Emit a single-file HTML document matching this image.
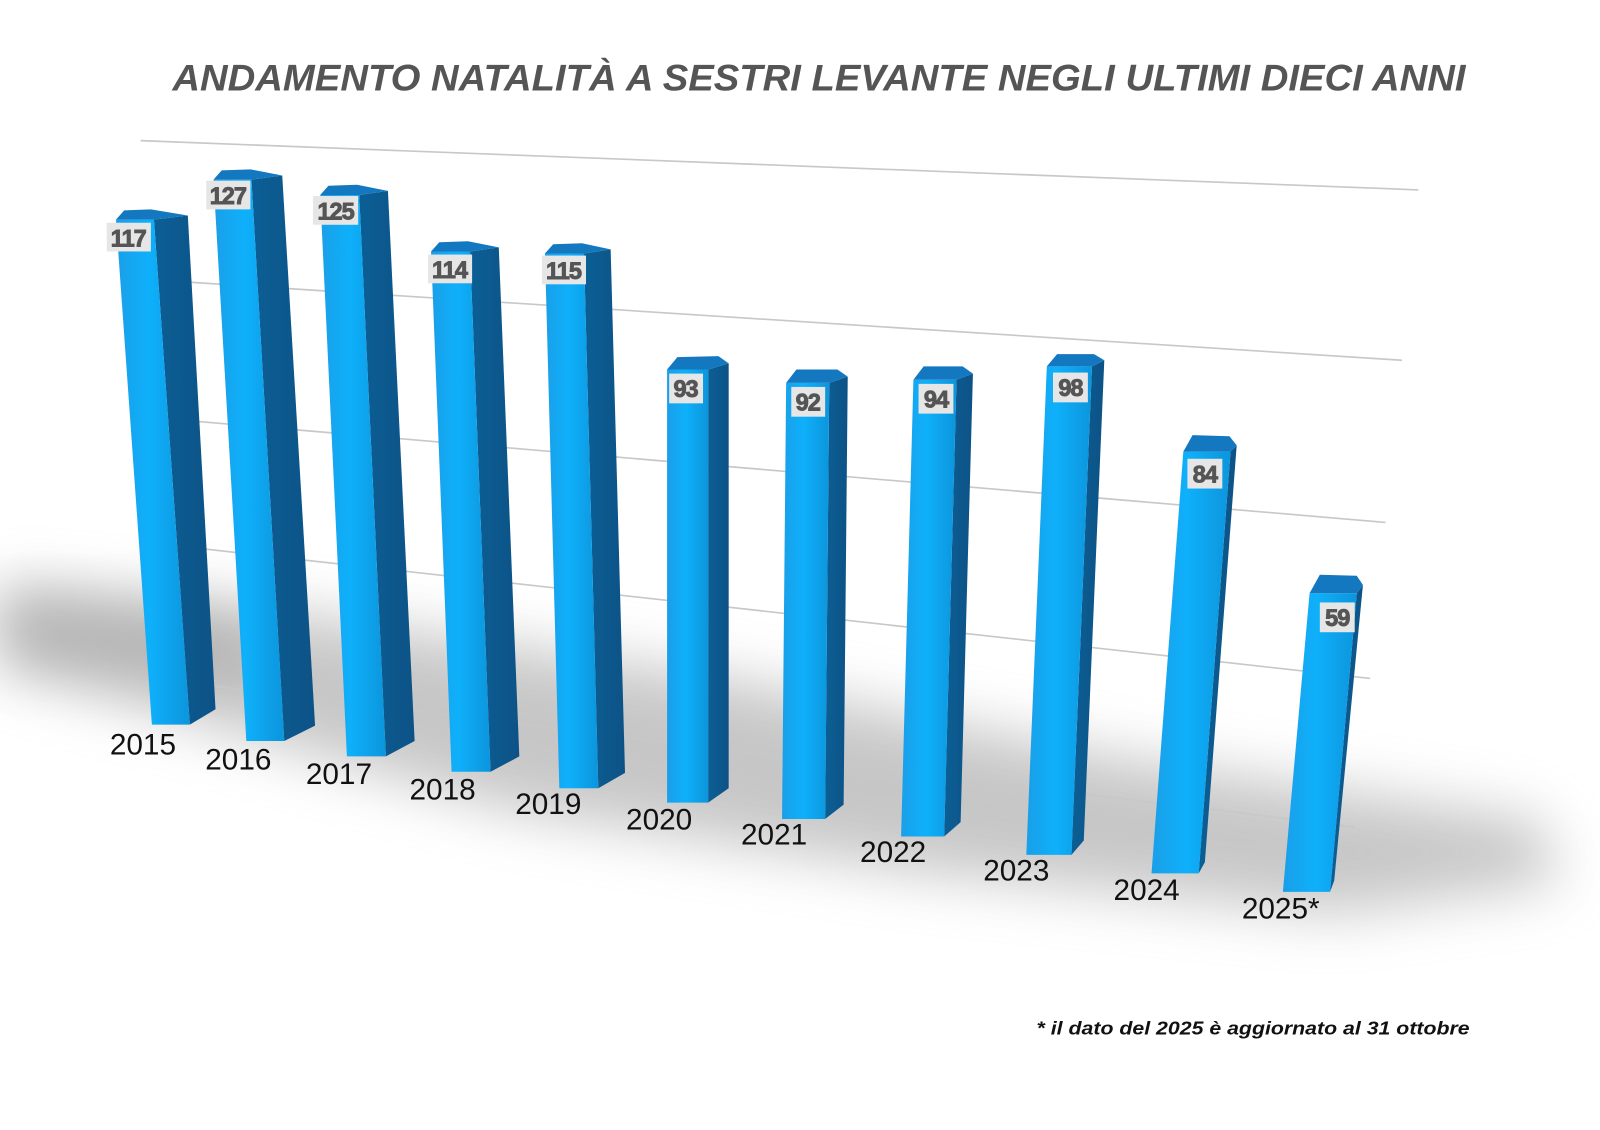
<!DOCTYPE html>
<html><head><meta charset="utf-8"><style>
html,body{margin:0;padding:0;background:#fff;width:1600px;height:1130px;overflow:hidden}
svg{display:block}
.v{font-family:"Liberation Sans",sans-serif;font-weight:bold;font-size:23px;fill:#555;stroke:#555;stroke-width:0.9px;letter-spacing:-1px}
</style></head><body>
<svg width="1600" height="1130" viewBox="0 0 1559 1101" xmlns="http://www.w3.org/2000/svg">
<defs>
<filter id="blur" x="-20%" y="-50%" width="140%" height="200%"><feGaussianBlur stdDeviation="28"/></filter>
<linearGradient id="front" x1="0" y1="0" x2="1" y2="0">
<stop offset="0" stop-color="#1a9fe8"/><stop offset="0.45" stop-color="#0fb0fb"/><stop offset="1" stop-color="#0c95dc"/>
</linearGradient>
<linearGradient id="side" x1="0" y1="0" x2="1" y2="0">
<stop offset="0" stop-color="#0b5f95"/><stop offset="1" stop-color="#0d5286"/>
</linearGradient>
</defs>
<rect width="1559" height="1101" fill="#fff"/>
<text x="798" y="88" text-anchor="middle" font-family="Liberation Sans, sans-serif" font-weight="bold" font-style="italic" font-size="36" fill="#555" textLength="1260" lengthAdjust="spacingAndGlyphs">ANDAMENTO NATALITÀ A SESTRI LEVANTE NEGLI ULTIMI DIECI ANNI</text>
<polygon points="0,570 300,600 700,660 1100,740 1500,800 1520,860 1300,890 900,850 500,790 0,650" fill="#999" opacity="0.55" filter="url(#blur)"/>
<polygon points="0,580 250,600 250,660 0,640" fill="#888" opacity="0.35" filter="url(#blur)"/>
<g stroke="#c8c8c8" stroke-width="1.6">
<line x1="137" y1="137" x2="1382" y2="185"/>
<line x1="185" y1="275" x2="1366" y2="351"/>
<line x1="185" y1="410" x2="1350" y2="509"/>
<line x1="200" y1="535" x2="1335" y2="661"/>
<line x1="205" y1="668" x2="1320" y2="806"/>
</g>
<text x="1432" y="1008" text-anchor="end" font-family="Liberation Sans, sans-serif" font-weight="bold" font-style="italic" font-size="18" fill="#111" textLength="422" lengthAdjust="spacingAndGlyphs">* il dato del 2025 è aggiornato al 31  ottobre</text>
<g font-family="Liberation Sans, sans-serif" font-size="29" fill="#111">
<text x="107" y="735">2015</text><text x="200" y="750">2016</text><text x="298" y="764">2017</text>
<text x="399" y="779">2018</text><text x="502" y="793">2019</text><text x="610" y="808">2020</text>
<text x="722" y="823">2021</text><text x="838" y="840">2022</text><text x="958" y="858">2023</text>
<text x="1085" y="877">2024</text><text x="1210" y="895">2025*</text>
</g>
<g>
<polygon points="150,214 183,210 210,691 185,706" fill="url(#side)"/><polygon points="113,214 150,214 185,706 148,706" fill="url(#front)"/><polygon points="113,214 150,214 183,210 147,204 121,205" fill="#1478c0"/>
<rect x="104" y="217" width="43" height="28" fill="#e6e6e6"/><text class="v" x="125" y="240" text-anchor="middle">117</text>

<polygon points="245,175 275,171 307,707 277,722" fill="url(#side)"/><polygon points="208,175 245,175 277,722 240,722" fill="url(#front)"/><polygon points="208,175 245,175 275,171 244,165 216,166" fill="#1478c0"/>
<rect x="201" y="176" width="43" height="28" fill="#e6e6e6"/><text class="v" x="222" y="199" text-anchor="middle">127</text>

<polygon points="350,190 378,186 404,722 376,737" fill="url(#side)"/><polygon points="312,190 350,190 376,737 338,737" fill="url(#front)"/><polygon points="312,190 350,190 378,186 348,180 320,181" fill="#1478c0"/>
<rect x="305" y="191" width="44" height="28" fill="#e6e6e6"/><text class="v" x="327" y="214" text-anchor="middle">125</text>

<polygon points="458,245 486,241 506,737 478,752" fill="url(#side)"/><polygon points="420,245 458,245 478,752 440,752" fill="url(#front)"/><polygon points="420,245 458,245 486,241 456,235 428,236" fill="#1478c0"/>
<rect x="417" y="248" width="43" height="28" fill="#e6e6e6"/><text class="v" x="438" y="271" text-anchor="middle">114</text>

<polygon points="569,247 595,243 609,753 583,768" fill="url(#side)"/><polygon points="531,247 569,247 583,768 545,768" fill="url(#front)"/><polygon points="531,247 569,247 595,243 567,237 539,238" fill="#1478c0"/>
<rect x="528" y="249" width="43" height="28" fill="#e6e6e6"/><text class="v" x="549" y="272" text-anchor="middle">115</text>

<polygon points="690,360 710,354 710,768 690,782" fill="url(#side)"/><polygon points="650,360 690,360 690,782 650,782" fill="url(#front)"/><polygon points="650,360 690,360 710,354 700,347 660,348" fill="#1478c0"/>
<rect x="652" y="364" width="33" height="29" fill="#e6e6e6"/><text class="v" x="668" y="387" text-anchor="middle">93</text>

<polygon points="808,373 826,367 822,784 804,798" fill="url(#side)"/><polygon points="766,373 808,373 804,798 762,798" fill="url(#front)"/><polygon points="766,373 808,373 826,367 816,360 776,360" fill="#1478c0"/>
<rect x="771" y="377" width="33" height="29" fill="#e6e6e6"/><text class="v" x="787" y="400" text-anchor="middle">92</text>

<polygon points="932,370 948,364 936,801 920,815" fill="url(#side)"/><polygon points="890,370 932,370 920,815 878,815" fill="url(#front)"/><polygon points="890,370 932,370 948,364 938,357 900,357" fill="#1478c0"/>
<rect x="895" y="374" width="34" height="29" fill="#e6e6e6"/><text class="v" x="912" y="397" text-anchor="middle">94</text>

<polygon points="1064,357 1076,351 1056,819 1044,833" fill="url(#side)"/><polygon points="1020,357 1064,357 1044,833 1000,833" fill="url(#front)"/><polygon points="1020,357 1064,357 1076,351 1066,345 1030,345" fill="#1478c0"/>
<rect x="1026" y="363" width="34" height="29" fill="#e6e6e6"/><text class="v" x="1043" y="386" text-anchor="middle">98</text>

<polygon points="1199,440 1205,434 1174,840 1168,851" fill="url(#side)"/><polygon points="1153,440 1199,440 1168,851 1122,851" fill="url(#front)"/><polygon points="1153,440 1199,440 1205,434 1198,425 1162,424" fill="#1478c0"/>
<rect x="1157" y="447" width="34" height="29" fill="#e6e6e6"/><text class="v" x="1174" y="470" text-anchor="middle">84</text>

<polygon points="1322,578 1328,570 1300,858 1296,869" fill="url(#side)"/><polygon points="1276,578 1322,578 1296,869 1250,869" fill="url(#front)"/><polygon points="1276,578 1322,578 1328,570 1322,561 1286,560" fill="#1478c0"/>
<rect x="1286" y="587" width="34" height="29" fill="#e6e6e6"/><text class="v" x="1303" y="610" text-anchor="middle">59</text>
</g>
</svg>
</body></html>
